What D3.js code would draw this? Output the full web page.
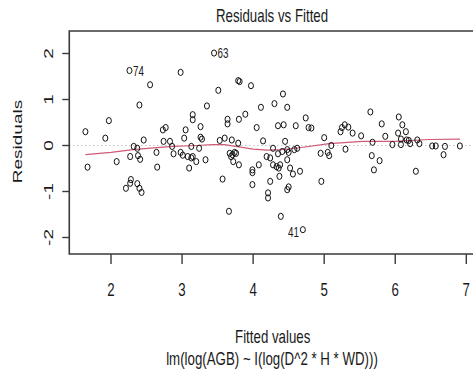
<!DOCTYPE html>
<html>
<head>
<meta charset="utf-8">
<script src="https://cdn.jsdelivr.net/npm/d3@7/dist/d3.min.js"></script>
<style>
	html, body {margin: 0; padding: 0; background: #fff;}
	svg {display: block;}
	text {font-family: "Liberation Sans", Arial, sans-serif; fill: #1a1a1a;}
</style>
</head>
<body>
<div id="chart"></div>
<script>
// Fitted values (x) and residuals (y).
var fitted = [
	1.64, 1.67, 1.92, 1.97, 2.08, 2.26, 2.27, 2.28, 2.32, 2.38,
	2.40, 2.37, 2.41, 2.46, 2.55, 2.64, 2.65, 2.73, 2.77, 2.74,
	2.83, 2.86, 2.88, 2.98, 2.98, 3.01, 3.03, 3.05, 3.08, 3.10,
	3.13, 3.15, 3.15, 3.15, 3.20, 3.24, 3.26, 3.26, 3.28, 3.33,
	3.35, 3.45, 3.51, 3.53, 3.57, 3.60, 3.64, 3.64, 3.67, 3.70,
	3.69, 3.72, 3.74, 3.79, 3.81, 3.80, 3.80, 3.97, 3.79, 3.89,
	3.76, 3.71, 4.05, 4.11, 4.14, 4.08, 3.99, 3.99, 3.99, 4.19,
	4.24, 4.28, 4.28, 4.24, 4.30, 4.35, 4.42, 4.43, 4.48, 4.35,
	4.41, 4.45, 4.48, 4.38, 4.36, 4.37, 4.48, 4.52, 4.56, 4.50,
	4.58, 4.60, 4.62, 4.66, 4.74, 4.78, 4.82, 4.95, 4.96, 5.00,
	5.05, 5.07, 5.10, 5.23, 5.25, 5.29, 5.34, 5.40, 5.30, 5.52,
	5.65, 5.68, 5.67, 5.78, 5.70, 5.81, 5.86, 5.96, 6.05, 6.10,
	6.04, 6.15, 6.08, 6.08, 6.16, 6.19, 6.21, 6.31, 6.34, 6.29,
	6.52, 6.57, 6.70, 6.68, 6.91, 2.21, 2.27, 2.37, 2.40, 2.43,
	3.66, 4.21, 4.21, 4.39, 4.70, 4.48, 4.33, 4.50, 3.13
];
var residuals = [
	0.30, -0.47, 0.16, 0.54, -0.35, 1.63, -0.24, -0.74, -0.02, -0.22,
	0.88, -0.06, -0.30, 0.12, 1.32, -0.15, -0.47, 0.34, 0.39, 0.09,
	0.09, -0.02, -0.18, 1.59, -0.15, -0.21, 0.16, 0.34, -0.24, -0.49,
	-0.02, 0.56, 0.67, -0.24, -0.35, -0.06, 0.41, 0.18, 0.14, -0.31,
	0.86, 2.01, 1.20, 0.11, -0.73, 0.16, 0.57, 0.47, -0.17, 0.12,
	-0.24, -0.35, -0.15, 1.41, 1.39, 0.57, -0.42, 1.30, 0.05, 0.68,
	-0.17, -0.20, 0.39, 0.83, 0.10, -0.42, -0.53, -0.59, -0.85, -0.24,
	-0.27, -0.06, -0.42, -0.78, 0.91, 0.43, 1.12, 0.45, 0.83, -0.18,
	-0.13, 0.09, -0.09, -0.42, -0.49, -0.67, -0.31, -0.49, -0.62, -0.90,
	-0.09, 0.43, -0.06, -0.56, 0.60, 0.39, 0.38, -0.17, -0.78, 0.17,
	-0.15, -0.22, 0.00, 0.30, 0.39, 0.45, 0.40, 0.27, -0.08, 0.21,
	0.73, 0.07, -0.22, -0.33, -0.53, 0.47, 0.20, 0.02, 0.62, 0.45,
	0.27, 0.30, 0.14, 0.02, 0.12, 0.11, 0.04, 0.12, 0.04, -0.56,
	-0.01, -0.01, -0.02, -0.20, -0.01, -0.93, -0.82, -0.83, -0.93, -1.02,
	-1.43, -1.03, -1.14, -1.54, -1.83, -0.96, -0.46, -0.15, -0.27
];
// Labelled observations: index into the arrays above, and its label.
var labelIndex = [5, 41, 144];
var labelText = ['74', '63', '41'];
// Smoothed red line.
var smoothX = [1.64, 2.0, 2.31, 2.6, 2.87, 3.2, 3.43, 3.6, 3.8, 4.0, 4.2, 4.4, 4.6, 5.07, 5.54, 6.0, 6.47, 6.91];
var smoothY = [-0.20, -0.15, -0.09, -0.05, -0.02, 0.0, 0.02, 0.02, -0.03, -0.08, -0.10, -0.09, -0.06, 0.04, 0.09, 0.09, 0.13, 0.14];
var xTicks = [2, 3, 4, 5, 6, 7];
var yTicks = [-2, -1, 0, 1, 2];

(function() {
	'use strict';

	var width = 473, height = 376,
			sx = 0.7, // the picture is squeezed sideways
			svg, x, y, box;

	function squeeze(px, py, rot) {
		return 'translate(' + px + ',' + py + ')scale(' + sx + ',1)' + (rot ? 'rotate(' + rot + ')' : '');}

	svg = d3.select('#chart').append('svg')
		.attr('width', width)
		.attr('height', height);

	x = d3.scaleLinear().domain([2, 7]).range([111, 466.3]);
	y = d3.scaleLinear().domain([-2, 2]).range([237.5, 53.5]);

	box = {left: x(1.413), right: x(7.12), top: 31, bottom: 254};

	// Zero reference line.
	svg.append('line')
		.attr('x1', box.left).attr('x2', box.right)
		.attr('y1', y(0)).attr('y2', y(0))
		.attr('stroke', '#aaaaaa')
		.attr('stroke-width', 1)
		.attr('stroke-dasharray', '1,3');

	// Smoother.
	svg.append('path')
		.datum(d3.zip(smoothX, smoothY))
		.attr('fill', 'none')
		.attr('stroke', '#cf5b78')
		.attr('stroke-width', 1.2)
		.attr('d', d3.line()
			.x(function(d) {return x(d[0]);})
			.y(function(d) {return y(d[1]);}));

	// Points.
	svg.append('g').selectAll('ellipse').data(d3.zip(fitted, residuals))
		.enter().append('ellipse')
		.attr('cx', function(d) {return x(d[0]);})
		.attr('cy', function(d) {return y(d[1]);})
		.attr('rx', 2.5).attr('ry', 3.1)
		.attr('fill', 'none')
		.attr('stroke', '#111')
		.attr('stroke-width', 1);

	// Point labels, right of the point on the left half, left of it otherwise.
	svg.append('g').selectAll('text').data(labelIndex)
		.enter().append('text')
		.style('font-size', '14px')
		.attr('text-anchor', function(d) {return fitted[d] < 4 ? 'start' : 'end';})
		.attr('dy', '0.36em')
		.attr('transform', function(d) {
			var px = x(fitted[d]) + (fitted[d] < 4 ? 3.5 : -4);
			return squeeze(px, y(residuals[d]) + (fitted[d] < 4 ? 0 : 2.5));})
		.text(function(d, i) {return labelText[i];});

	// Box (right edge falls outside the picture).
	svg.append('path')
		.attr('fill', 'none')
		.attr('stroke', '#3a3a3a')
		.attr('stroke-width', 1.6)
		.attr('d', 'M' + box.right + ',' + box.top + 'H' + box.left + 'V' + box.bottom + 'H' + box.right);

	// X axis.
	svg.append('g').selectAll('line').data(xTicks)
		.enter().append('line')
		.attr('x1', x).attr('x2', x)
		.attr('y1', box.bottom).attr('y2', box.bottom + 10)
		.attr('stroke', '#3a3a3a')
		.attr('stroke-width', 1.4);
	svg.append('g').selectAll('text').data(xTicks)
		.enter().append('text')
		.style('font-size', '19px')
		.attr('text-anchor', 'middle')
		.attr('transform', function(d) {return squeeze(x(d), 296);})
		.text(function(d) {return d;});

	// Y axis.
	svg.append('g').selectAll('line').data(yTicks)
		.enter().append('line')
		.attr('x1', box.left - 7).attr('x2', box.left)
		.attr('y1', y).attr('y2', y)
		.attr('stroke', '#3a3a3a')
		.attr('stroke-width', 1.4);
	svg.append('g').selectAll('text').data(yTicks)
		.enter().append('text')
		.style('font-size', '19px')
		.attr('text-anchor', 'middle')
		.attr('transform', function(d) {return squeeze(52.5, y(d), -90);})
		.text(function(d) {return d;});

	// Titles.
	svg.append('text')
		.style('font-size', '19px')
		.attr('text-anchor', 'middle')
		.attr('transform', squeeze(272, 22))
		.text('Residuals vs Fitted');
	svg.append('text')
		.style('font-size', '19px')
		.attr('text-anchor', 'middle')
		.attr('transform', squeeze(22, 141.5, -90))
		.text('Residuals');
	svg.append('text')
		.style('font-size', '19px')
		.attr('text-anchor', 'middle')
		.attr('transform', squeeze(272.7, 342.7))
		.text('Fitted values');
	svg.append('text')
		.style('font-size', '19px')
		.attr('text-anchor', 'middle')
		.attr('transform', squeeze(272, 365))
		.text('lm(log(AGB) ~ I(log(D^2 * H * WD)))');
})();
</script>
</body>
</html>
